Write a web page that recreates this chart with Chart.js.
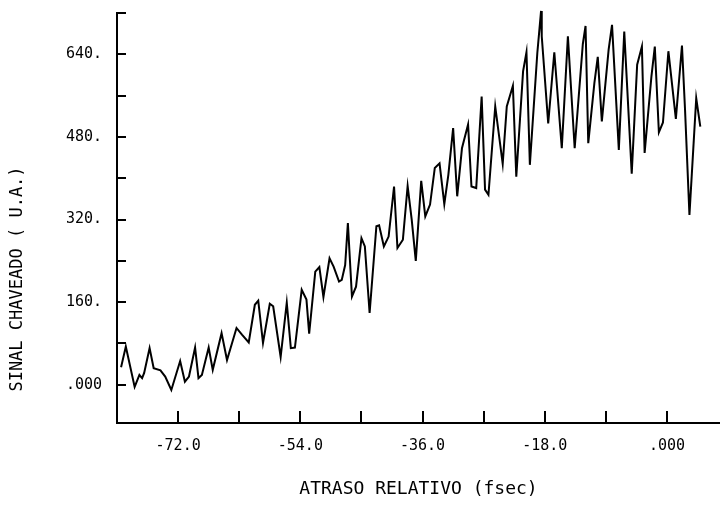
<!DOCTYPE html>
<html>
<head>
<meta charset="utf-8">
<script src="https://cdn.jsdelivr.net/npm/chart.js@4/dist/chart.umd.min.js"></script>
<style>
  html, body { margin: 0; padding: 0; background: #fff; }
  #wrap { width: 720px; height: 524px; position: relative; }
</style>
</head>
<body>
<div id="wrap"><canvas id="chartSinal"></canvas></div>
<script>
// =========================================================
// DADOS
// =========================================================
const atraso = [
  -80.4, -79.7, -78.4, -77.7, -77.3, -77.0, -76.2, -75.6, -74.6, -73.9,
  -73.0, -71.7, -71.0, -70.4, -69.5, -69.0, -68.5, -67.5, -66.9, -65.6,
  -64.8, -63.4, -62.6, -61.6, -60.7, -60.2, -59.5, -58.5, -58.0, -56.9,
  -56.0, -55.4, -54.8, -53.8, -53.1, -52.7, -51.8, -51.2, -50.6, -49.7,
  -49.1, -48.3, -47.9, -47.4, -47.0, -46.4, -45.8, -45.0, -44.5, -43.8,
  -42.8, -42.4, -41.7, -41.0, -40.2, -39.7, -38.9, -38.2, -37.6, -37.0,
  -36.2, -35.6, -34.9, -34.2, -33.5, -32.8, -32.2, -31.5, -30.9, -30.2,
  -29.3, -28.8, -28.1, -27.3, -26.8, -26.3, -25.3, -24.2, -23.6, -22.7,
  -22.2, -21.2, -20.7, -20.2, -19.1, -18.55, -18.45, -17.5, -16.6, -15.5,
  -14.6, -13.6, -12.4, -12.0, -11.6, -10.7, -10.2, -9.6, -8.6, -8.1,
  -7.1, -6.3, -5.2, -4.4, -3.7, -3.3, -2.3, -1.8, -1.2, -0.6,
  0.2, 1.3, 2.2, 2.65, 3.3, 4.3, 4.9
];
const sinal = [
  34, 74, -4, 19, 13, 23, 71, 32, 28, 16,
  -10, 46, 6, 16, 72, 13, 19, 72, 29, 100,
  48, 110, 97, 82, 155, 163, 81, 157, 152, 54,
  159, 71, 72, 184, 165, 99, 219, 228, 170, 245,
  229, 200, 203, 232, 313, 171, 190, 284, 268, 139,
  307, 309, 268, 287, 384, 265, 281, 385, 320, 240,
  395, 326, 349, 420, 429, 350, 407, 497, 365, 458,
  504, 384, 381, 558, 378, 368, 539, 428, 539, 579,
  403, 607, 644, 426, 643, 724, 675, 506, 644, 458,
  675, 458, 660, 695, 468, 584, 635, 510, 649, 697,
  455, 684, 409, 620, 655, 449, 597, 655, 489, 508,
  646, 515, 657, 533, 329, 555, 500
];

// marcas e rótulos dos eixos
const xMarcas    = [-72, -63, -54, -45, -36, -27, -18, -9, 0];
const xValRotulo = [-72, -54, -36, -18, 0];
const xRotulos   = ['-72.0', '-54.0', '-36.0', '-18.0', '.000'];
const yMarcas    = [0, 80, 160, 240, 320, 400, 480, 560, 640, 720];
const yValRotulo = [0, 160, 320, 480, 640];
const yRotulos   = ['.000', '160.', '320.', '480.', '640.'];

const FONTE = "'DejaVu Sans Mono', 'Liberation Mono', monospace";

// =========================================================
// PLUGIN: marcas internas + título do eixo Y
// =========================================================
const marcasInternas = {
  id: 'marcasInternas',
  afterDraw(chart) {
    const { ctx, chartArea: a, scales: { x, y } } = chart;
    ctx.save();
    ctx.strokeStyle = '#000';
    ctx.lineWidth = 2;
    ctx.beginPath();
    xMarcas.forEach(v => {
      const p = Math.round(x.getPixelForValue(v));
      ctx.moveTo(p, a.bottom);
      ctx.lineTo(p, a.bottom - 12);
    });
    yMarcas.forEach(v => {
      const p = Math.round(y.getPixelForValue(v));
      ctx.moveTo(a.left, p);
      ctx.lineTo(a.left + 9, p);
    });
    ctx.stroke();

    ctx.translate(18, 279);
    ctx.rotate(-Math.PI / 2);
    ctx.fillStyle = '#000';
    ctx.font = `17px ${FONTE}`;
    ctx.textAlign = 'center';
    ctx.textBaseline = 'middle';
    ctx.fillText('SINAL CHAVEADO ( U.A.)', 0, 0);
    ctx.restore();
  }
};

// sem folga extra calculada pelo Chart.js
function semFolga(s) {
  s.paddingTop = 0; s.paddingBottom = 0;
  s.paddingLeft = 0; s.paddingRight = 0;
}

// =========================================================
// GRÁFICO
// =========================================================
new Chart(document.getElementById('chartSinal'), {
  type: 'line',
  data: {
    datasets: [{
      data: atraso.map((v, i) => ({ x: v, y: sinal[i] })),
      borderColor: '#000',
      borderWidth: 2,
      pointRadius: 0,
      tension: 0,
      clip: false
    }]
  },
  options: {
    responsive: true,
    maintainAspectRatio: false,
    animation: false,
    layout: { padding: { top: 13, right: 0, bottom: 0, left: 0 } },
    plugins: { legend: { display: false }, tooltip: { enabled: false } },
    scales: {
      x: {
        type: 'linear',
        min: -81,
        max: 7.8,
        grid: { display: false, drawTicks: false },
        border: { display: true, color: '#000', width: 2 },
        afterBuildTicks: s => { s.ticks = xValRotulo.map(v => ({ value: v })); },
        afterFit: s => { s.height = 101; semFolga(s); },
        ticks: {
          color: '#000',
          padding: 14,
          maxRotation: 0,
          font: { family: FONTE, size: 15 },
          callback: v => xRotulos[xValRotulo.indexOf(v)]
        },
        title: {
          display: true,
          text: 'ATRASO RELATIVO (fsec)',
          color: '#000',
          font: { family: FONTE, size: 18 },
          padding: { top: 0, bottom: 24 }
        }
      },
      y: {
        type: 'linear',
        min: -74,
        max: 720,
        grid: { display: false, drawTicks: false },
        border: { display: true, color: '#000', width: 2 },
        afterBuildTicks: s => { s.ticks = yValRotulo.map(v => ({ value: v })); },
        afterFit: s => { s.width = 117; semFolga(s); },
        ticks: {
          color: '#000',
          padding: 15,
          font: { family: FONTE, size: 15 },
          callback: v => yRotulos[yValRotulo.indexOf(v)]
        }
      }
    }
  },
  plugins: [marcasInternas]
});
</script>
</body>
</html>
